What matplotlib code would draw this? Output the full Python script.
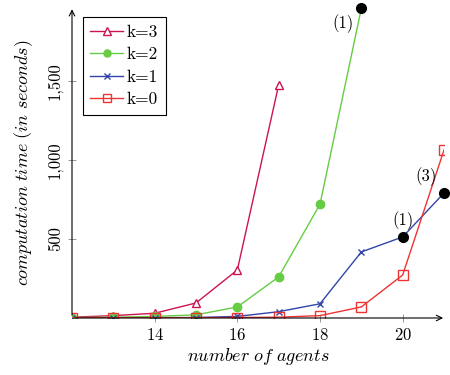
import numpy as np
import matplotlib.pyplot as plt
from matplotlib.ticker import FuncFormatter

plt.rcParams['font.family'] = ['cmr10', 'DejaVu Serif']
plt.rcParams['mathtext.fontset'] = 'cm'
plt.rcParams['axes.formatter.use_mathtext'] = True

# data
agents = [12, 13, 14, 15, 16, 17, 18, 19, 20, 21]
k3_x = [12, 13, 14, 15, 16, 17]
k3_y = [5, 15, 30, 95, 304, 1475]
k2_x = [12, 13, 14, 15, 16, 17, 18, 19]
k2_y = [3, 5, 10, 20, 70, 260, 720, 1960]
k1_x = [12, 13, 14, 15, 16, 17, 18, 19, 20, 21]
k1_y = [2, 2, 2, 3, 10, 40, 90, 418, 513, 791]
k0_x = [12, 13, 14, 15, 16, 17, 18, 19, 20, 21]
k0_y = [2, 2, 2, 2, 3, 5, 15, 70, 272, 1063]

# points that did not finish everywhere (black dots) and their labels
dot_x = [19, 20, 21]
dot_y = [1960, 513, 791]
dot_lbl = ['(1)', '(1)', '(3)']
lbl_off = [(-13, -11), (0, 12), (-13, 11.5)]

c3 = '#cc1452'
c2 = '#66cc44'
c1 = '#3344aa'
c0 = '#ee3333'

fig = plt.figure(figsize=(4.5, 3.75), dpi=100)
ax = fig.add_axes([72 / 450, 1 - 318 / 375, (444 - 72) / 450, 310 / 375])

ax.plot(k3_x, k3_y, color=c3, lw=1, marker='^', mfc='white', mec=c3, ms=6, label='k=3')
ax.plot(k2_x[:-1], k2_y[:-1], color=c2, lw=1, marker='o', ms=6, label='k=2')
ax.plot(k2_x[-2:], k2_y[-2:], color=c2, lw=1)
ax.plot(k1_x[:-2], k1_y[:-2], color=c1, lw=1, marker='x', ms=5, label='k=1')
ax.plot(k1_x[-3:], k1_y[-3:], color=c1, lw=1)
ax.plot(k0_x, k0_y, color=c0, lw=1, marker='s', mfc='none', mec=c0, ms=7, label='k=0')

ax.plot(dot_x, dot_y, 'o', color='black', ms=7, clip_on=False, zorder=5)
for x, y, t, off in zip(dot_x, dot_y, dot_lbl, lbl_off):
    ax.annotate(t, (x, y), xytext=off, textcoords='offset points',
                ha='center', va='center', fontsize=12)

ax.set_xlim(12, 21)
ax.set_ylim(0, 1962)
for s in ax.spines.values():
    s.set_visible(False)
ax.annotate('', xy=(1.005, 0), xytext=(0, 0), xycoords='axes fraction',
            arrowprops=dict(arrowstyle='->', color='black', lw=0.8))
ax.annotate('', xy=(0, 1.005), xytext=(0, 0), xycoords='axes fraction',
            arrowprops=dict(arrowstyle='->', color='black', lw=0.8))

ax.set_xticks([14, 16, 18, 20])
ax.set_yticks([500, 1000, 1500])
ax.yaxis.set_major_formatter(FuncFormatter(lambda v, p: f'{int(v):,}'))
ax.tick_params(direction='inout', length=6, width=0.6, color='#888888', labelsize=12)
for t in ax.get_yticklabels():
    t.set_rotation(90)
    t.set_va('center')

ax.set_xlabel(r'$\mathit{number\ of\ agents}$', fontsize=13, labelpad=2)
ax.set_ylabel(r'$\mathit{computation\ time\ (in\ seconds)}$', fontsize=13, labelpad=9)

leg = ax.legend(loc='upper left', bbox_to_anchor=(0.03, 0.971), borderaxespad=0,
                fontsize=12.5, fancybox=False, edgecolor='black', framealpha=1,
                handlelength=1.85, borderpad=0.42, labelspacing=0.42, handletextpad=0.25,
                markerscale=0.85)
leg.get_frame().set_linewidth(0.8)

fig.savefig('out.png', dpi=100)
